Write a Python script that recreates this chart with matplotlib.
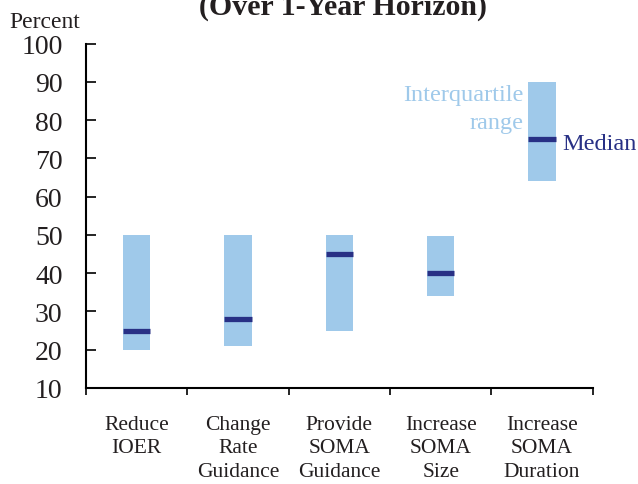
import matplotlib
matplotlib.use('Agg')
import matplotlib.pyplot as plt
import numpy as np

# Datos
categorias = ['Reduce\nIOER', 'Change\nRate\nGuidance', 'Provide\nSOMA\nGuidance',
              'Increase\nSOMA\nSize', 'Increase\nSOMA\nDuration']
cuartil_inf = [20, 21, 25, 34, 64]
cuartil_sup = [50, 50, 50, 49.7, 90]
mediana = [25, 28, 45, 40, 75]

azul_claro = '#9fc9ea'
azul_oscuro = '#283085'
negro = '#231f20'

plt.rcParams['font.family'] = ['Liberation Serif', 'DejaVu Serif']
plt.rcParams['text.color'] = negro

fig = plt.figure(figsize=(6.38, 4.85), dpi=100)
ax = fig.add_axes([0.135, 0.198, 0.794, 0.71])

x = np.arange(len(categorias))
ancho = 0.27
altura = np.array(cuartil_sup) - np.array(cuartil_inf)
ax.bar(x, altura, bottom=cuartil_inf, width=ancho, color=azul_claro, zorder=2)
ax.hlines(mediana, x - ancho / 2, x + ancho / 2, color=azul_oscuro, linewidth=3.8, zorder=3)

ax.set_xlim(-0.5, len(categorias) - 0.5)
ax.set_ylim(10, 100)
ax.set_yticks(range(10, 101, 10))
ax.tick_params(axis='y', direction='in', length=7, width=1.2, labelsize=20,
               pad=17, labelcolor=negro)
ax.set_xticks(np.arange(-0.5, len(categorias), 1.0))
ax.set_xticklabels([])
ax.tick_params(axis='x', direction='out', length=5, width=1.2)
for i, c in enumerate(categorias):
    ax.text(i, 3.0, c, ha='center', va='top', fontsize=15.5, linespacing=1.32)

for s in ['top', 'right']:
    ax.spines[s].set_visible(False)
for s in ['left', 'bottom']:
    ax.spines[s].set_linewidth(1.5)

# Anotaciones de la leyenda
ax.text(x[-1] - 0.18, 83, 'Interquartile\nrange', ha='right', va='center',
        fontsize=17.5, color=azul_claro, linespacing=1.45)
ax.text(x[-1] + 0.2, 74, 'Median', ha='left', va='center', fontsize=17.5, color=azul_oscuro)

fig.text(0.015, 1 - 28 / 485, 'Percent', fontsize=17)
fig.text(0.538, 1 - 15 / 485, '(Over 1-Year Horizon)', fontsize=21.5, fontweight='bold',
         ha='center', va='baseline')

fig.savefig('out.png', dpi=100)
